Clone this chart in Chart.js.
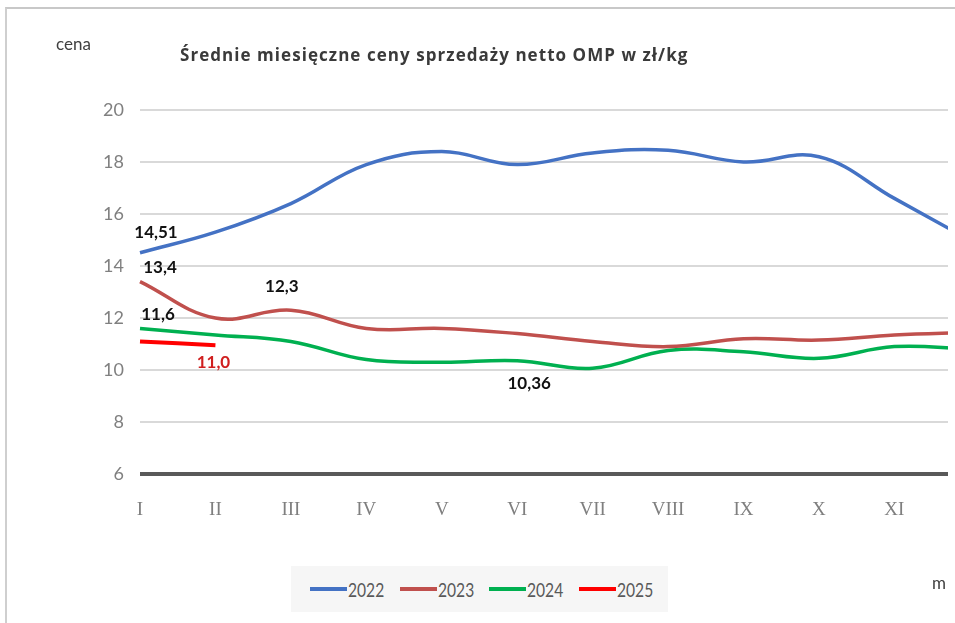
<!DOCTYPE html>
<html><head><meta charset="utf-8">
<script src="https://cdn.jsdelivr.net/npm/chart.js@4/dist/chart.umd.min.js"></script>
<style>
html,body{margin:0;padding:0;background:#fff;width:955px;height:623px;overflow:hidden;font-family:Lato,"Open Sans",sans-serif}
#frame{position:absolute;left:5px;top:7px;width:960px;height:620px;border-left:2px solid #cfcfcf;border-top:2px solid #c8c8c8}
#wrap{position:absolute;left:0;top:0;width:948px;height:623px;overflow:hidden}
canvas{position:absolute;left:0;top:0}
.txt{position:absolute;white-space:nowrap;color:#404040}
#title{left:180px;top:43px;font-weight:bold;font-size:17px;letter-spacing:1.05px;color:#3a3a3a;font-family:"Open Sans",Lato,sans-serif}
#cena{left:56px;top:33px;font-size:17px}
#mlab{left:932px;top:572px;font-size:17px}
#legend{position:absolute;left:291px;top:566px;width:377px;height:46px;background:#f6f6f6}
.li{position:absolute;top:0;height:46px;display:flex;align-items:center;font-size:20px;color:#595959;font-family:Lato,sans-serif}
.li span.ln{display:inline-block;width:37px;height:4px;margin-right:1px}
.li span.tx{display:inline-block;transform:scaleX(0.78);transform-origin:left center}
</style></head>
<body>
<div id="frame"></div>
<div id="wrap"><canvas id="c" width="1000" height="623"></canvas></div>
<div class="txt" id="cena">cena</div>
<div class="txt" id="title">Średnie miesięczne ceny sprzedaży netto OMP w zł/kg</div>
<div class="txt" id="mlab">m</div>
<div id="legend"></div>
<script>
const months = ["I","II","III","IV","V","VI","VII","VIII","IX","X","XI","XII"];
const seriesNames = ["2022","2023","2024","2025"];
const v2022 = [14.51,15.3,16.4,17.9,18.4,17.9,18.35,18.45,18.0,18.2,16.6,15.0];
const v2023 = [13.4,12.0,12.3,11.6,11.6,11.4,11.1,10.9,11.2,11.15,11.35,11.45];
const v2024 = [11.6,11.35,11.1,10.4,10.3,10.36,10.07,10.75,10.7,10.45,10.9,10.8];
const v2025 = [11.1,10.95];
const yTicks = [6,8,10,12,14,16,18,20];
const colors = ["#4472C4","#C0504D","#00B050","#FF0000"];
const widths = [3.5,3.5,3.5,4];
// data labels: [seriesIndex, pointIndex, text, dx, dy, color]
const labels = [
  [0,0,"14,51",16,-20,"#111"],
  [1,0,"13,4",20,-14,"#111"],
  [1,2,"12,3",-9,-24,"#111"],
  [2,0,"11,6",18,-14,"#111"],
  [3,1,"11,0",-2,17,"#d02020"],
  [2,5,"10,36",12,23,"#111"]
];
const allVals = [v2022,v2023,v2024,v2025];

const leg = document.getElementById('legend');
seriesNames.forEach((n,i)=>{
  const d=document.createElement('div');d.className='li';
  d.style.left=(19+i*89.5)+'px';
  d.innerHTML='<span class="ln" style="background:'+colors[i]+'"></span><span class="tx">'+n+'</span>';
  leg.appendChild(d);
});

const labelPlugin = {
  id:'dl',
  afterDatasetsDraw(chart){
    const ctx=chart.ctx, xs=chart.scales.x, ys=chart.scales.y;
    ctx.save();
    ctx.font='bold 17px Lato, sans-serif';
    ctx.textAlign='center';ctx.textBaseline='middle';
    labels.forEach(([s,p,t,dx,dy,c])=>{
      const x=xs.getPixelForValue(p), y=ys.getPixelForValue(allVals[s][p]);
      ctx.fillStyle=c;ctx.fillText(t,x+dx,y+dy);
    });
    ctx.restore();
  }
};

new Chart(document.getElementById('c'),{
  type:'line',
  data:{labels:months,datasets:allVals.map((v,i)=>({
    label:seriesNames[i],data:v,borderColor:colors[i],backgroundColor:colors[i],
    borderWidth:widths[i],pointRadius:0,tension:0.4,fill:false,cubicInterpolationMode:'default'
  }))},
  options:{
    responsive:false,animation:false,
    layout:{padding:{left:0,right:26,top:110,bottom:0}},
    plugins:{legend:{display:false},tooltip:{enabled:false},title:{display:false}},
    scales:{
      x:{offset:false,grid:{display:false},border:{display:false},
        ticks:{padding:17,color:'#7f7f7f',font:{family:'"Liberation Serif", serif',size:19},maxRotation:0,autoSkip:false},
        afterFit(s){s.height=149;}},
      y:{min:6,max:20,afterBuildTicks(s){s.ticks=yTicks.map(v=>({value:v}));},
        grid:{drawTicks:false,color:c=>c.tick&&c.tick.value===6?'#595959':'#d9d9d9',lineWidth:c=>c.tick&&c.tick.value===6?4:2},
        border:{display:false},
        ticks:{padding:16,color:'#808080',font:{family:'Lato, sans-serif',size:18}},
        afterFit(s){s.width=140;}}
    }
  },
  plugins:[labelPlugin]
});
</script>
</body></html>
